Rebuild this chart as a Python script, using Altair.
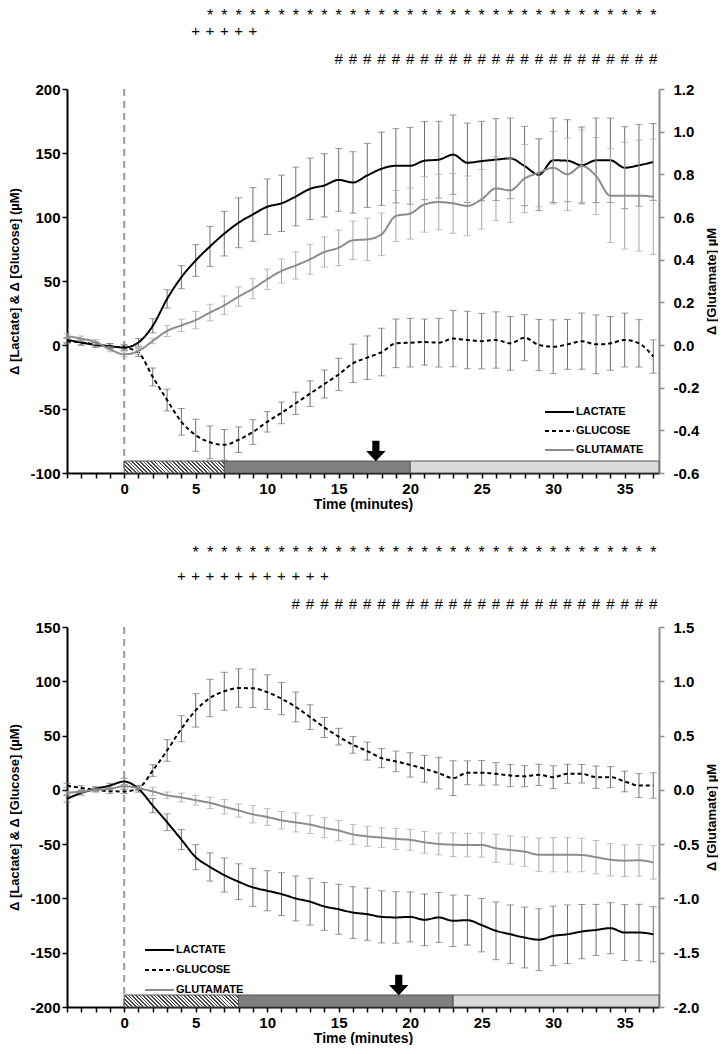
import altair as alt
import pandas as pd

FONT = "Liberation Sans"
SYMFONT = "Liberation Mono"

TIME = [-4, -3, -2, -1, 0, 1, 2, 3, 4, 5, 6, 7, 8, 9, 10, 11, 12, 13, 14, 15, 16,
        17, 18, 19, 20, 21, 22, 23, 24, 25, 26, 27, 28, 29, 30, 31, 32, 33, 34, 35, 36, 37]

# ---------------- Panel 1 ----------------
lac1 = [4, 2, 0, -1, -2, 2, 15, 36, 53, 66, 77, 87, 95.5, 102, 108, 110.7, 116, 122, 124.7, 129, 127,
        132.5, 137.7, 140, 140, 144, 144.8, 148.7, 142.4, 143.7, 144.8, 145.8, 139.8, 133, 144.3, 144,
        140.4, 144.3, 144.3, 138.5, 140.4, 143]
lac1_err = [2, 2, 2, 2, 2, 3, 5.5, 7.2, 9, 12.4, 15.6, 17.4, 19.5, 21, 21.7, 22, 23, 24, 24.7, 24.5, 24,
            25, 28.6, 29, 30, 30.5, 30, 31, 31, 31, 32, 31.5, 31, 28, 33, 32, 30, 33, 33, 32, 32, 30]
glc1 = [3, 2, 0.5, -1, -2, -6, -25, -43, -60, -70.5, -76, -78, -74, -68, -60, -53, -45.5, -38, -30.5, -23,
        -14.3, -9.9, -5.5, 1.3, 1.8, 2.3, 1.8, 5, 3.9, 3, 3.9, 1.3, 5.7, 0, -1.3, 0.5, 3, 0.5, 1.3, 3.9, 1.3, -9]
glc1_err = [2, 2, 2, 2, 2, 3, 7, 8.5, 10.4, 12.5, 12.8, 12, 10, 9.7, 8, 8.5, 8.7, 10, 11, 12.6, 15, 17,
            18.6, 19, 19, 18, 19, 22, 22.5, 21.6, 22, 21, 18, 20, 21, 19.5, 22, 23, 21, 21, 18.5, 13]
glu1 = [0.042, 0.03, 0.014, -0.02, -0.044, -0.028, 0.019, 0.066, 0.092, 0.117, 0.152, 0.186, 0.227, 0.264,
        0.308, 0.347, 0.373, 0.402, 0.436, 0.456, 0.491, 0.495, 0.519, 0.605, 0.616, 0.659, 0.67, 0.664,
        0.652, 0.683, 0.734, 0.725, 0.78, 0.808, 0.831, 0.8, 0.839, 0.792, 0.7, 0.7, 0.7, 0.695]
glu1_err = [0.012, 0.012, 0.012, 0.012, 0.012, 0.016, 0.013, 0.026, 0.029, 0.041, 0.039, 0.044, 0.045,
            0.047, 0.048, 0.056, 0.064, 0.07, 0.07, 0.084, 0.09, 0.1, 0.1, 0.12, 0.12, 0.13, 0.13, 0.14,
            0.14, 0.14, 0.15, 0.15, 0.16, 0.16, 0.17, 0.17, 0.17, 0.18, 0.22, 0.25, 0.26, 0.27]

# ---------------- Panel 2 ----------------
lac2 = [-8.3, -2.8, 0.9, 4, 7.7, 0.9, -14.5, -29.8, -45.8, -62, -71, -78.5, -84.6, -89.8, -92.9, -96, -100,
        -103, -107.4, -110, -113, -114.5, -117, -117.5, -117, -119.7, -117.5, -120.6, -120, -124.6, -129.8,
        -133, -136, -138, -134.5, -133, -130.5, -129, -127.4, -131.4, -131.4, -133]
lac2_err = [3, 2, 2, 2, 3, 3, 6.5, 7.7, 9.2, 11.5, 13, 15.7, 16.5, 17.5, 18.5, 19.7, 20.7, 21.5, 22, 23,
            23.8, 24, 24, 23.7, 23, 23.8, 23, 23.7, 23, 24.6, 26.6, 27, 28, 28.5, 27.4, 27, 25, 23.5, 23.5,
            25.7, 26, 25.4]
glc2 = [4, 1.8, 0, -1.2, -1.5, 1.5, 17.8, 36.3, 56.3, 73.2, 84.6, 90.8, 93.8, 93.5, 90, 84, 76.3, 67, 57.5,
        49, 41.5, 35.7, 29.2, 26.2, 23, 19.4, 15.4, 10.8, 15.7, 15.7, 14.8, 13.2, 12.6, 13.8, 11.7, 14.8,
        14.8, 11.7, 11.7, 7.7, 4, 4]
glc2_err = [2, 2, 2, 2, 2, 2, 5.4, 10, 12, 15.4, 17.2, 17.5, 17.7, 17.7, 16, 14.8, 13.8, 11.4, 9.2, 7.7,
            7.7, 8.3, 8.8, 9.5, 11.2, 12.3, 14.6, 16, 11, 11.4, 10.3, 10.3, 9.7, 9.8, 10.5, 8.8, 8.5, 10.3,
            9.7, 9.5, 11, 11.7]
glu2 = [-0.028, -0.015, 0, 0.009, 0.034, 0.015, -0.015, -0.05, -0.07, -0.095, -0.12, -0.155, -0.19, -0.225,
        -0.25, -0.28, -0.3, -0.32, -0.35, -0.375, -0.41, -0.428, -0.44, -0.452, -0.46, -0.483, -0.498,
        -0.505, -0.508, -0.508, -0.538, -0.554, -0.569, -0.597, -0.597, -0.597, -0.6, -0.62, -0.643,
        -0.652, -0.649, -0.668]
glu2_err = [0.015, 0.012, 0.01, 0.01, 0.015, 0.012, 0.04, 0.03, 0.04, 0.046, 0.052, 0.066, 0.06, 0.08,
            0.077, 0.08, 0.088, 0.082, 0.092, 0.094, 0.092, 0.092, 0.09, 0.098, 0.097, 0.1, 0.1, 0.109,
            0.108, 0.112, 0.13, 0.13, 0.135, 0.154, 0.158, 0.16, 0.154, 0.154, 0.15, 0.146, 0.146, 0.154]

SERIES = ["LACTATE", "GLUCOSE", "GLUTAMATE"]
SERIES_COLOR = ["black", "black", "#8c8c8c"]
SERIES_DASH = [[1, 0], [4, 3], [1, 0]]

# phases (boundaries in minutes)
phase1 = [0, 7, 20, 37.4]
phase2 = [0, 8, 23, 37.4]
arrow1 = [17.6]
arrow2 = [19.2]

# significance symbol rows (index ranges into TIME)
stars1_from, plus1_from, plus1_to, hash1_from = 10, 9, 14, 19
stars2_from, plus2_from, plus2_to, hash2_from = 9, 8, 19, 16

X_DOMAIN = [-4, 37.4]
PLOT_W = 592
BAR_H = 12
ARROW = "M-0.35,-1L0.35,-1L0.35,0L0.95,0L0,1L-0.95,0L-0.35,0Z"


def lbl_expr(fmt):
    return f"datum.value < 0 ? '-' + format(-datum.value, '{fmt}') : format(datum.value, '{fmt}')"


def hatch_gradient(w, h, period=2.6, dark="#4a4a4a", light="#f4f4f4", frac=0.45):
    """Diagonal ('\\') stripes drawn as a hard-stop linear gradient over a w x h box."""
    span = w + h
    n = max(1, round(span / (period * 2 ** 0.5)))
    stops = []
    for i in range(n):
        a, b, c = i / n, (i + frac) / n, min(1.0, (i + 1) / n)
        stops += [alt.GradientStop(color=dark, offset=a), alt.GradientStop(color=dark, offset=b),
                  alt.GradientStop(color=light, offset=b), alt.GradientStop(color=light, offset=c)]
    s = span / (w * w + h * h)
    return alt.LinearGradient(gradient="linear", stops=stops, x1=0, y1=1, x2=s * w, y2=1 - s * h)


def make_panel(lac, lac_e, glc, glc_e, glu, glu_e, ldom, lvals, rdom, rvals, h,
               phases, arrow_t, syms, sym_y, leg_xy, leg_step):
    xscale = alt.Scale(domain=X_DOMAIN, nice=False, zero=False)
    xaxis = alt.Axis(values=TIME, grid=False, domainColor="black", domainWidth=2,
                     tickColor="black", tickWidth=1.5, tickSize=5,
                     labelExpr="datum.value % 5 === 0 ? format(datum.value, 'd') : ''",
                     labelOverlap=False, labelFlush=False,
                     labelFont=FONT, labelFontSize=15, labelFontWeight="bold", labelColor="black",
                     labelPadding=3, title="Time (minutes)", titleFont=FONT, titleFontSize=14,
                     titleFontWeight="bold", titleColor="black", titlePadding=1)

    def X(f):
        return alt.X(f, type="quantitative", scale=xscale, axis=xaxis)

    ltitle = "Δ [Lactate] & Δ [Glucose] (µM)"
    laxis = alt.Axis(values=lvals, orient="left", grid=False, domainColor="black", domainWidth=2,
                     tickColor="black", tickWidth=1.5, tickSize=5, labelExpr=lbl_expr("d"),
                     labelFont=FONT, labelFontSize=15, labelFontWeight="bold", labelColor="black",
                     labelPadding=2, title=ltitle, titleFont=FONT, titleFontSize=13,
                     titleFontWeight="bold", titleColor="black", titlePadding=8)
    lscale = alt.Scale(domain=ldom, nice=False, zero=False)

    def YL(f):
        return alt.Y(f, type="quantitative", scale=lscale, axis=laxis)

    rtitle = "Δ [Glutamate] µM"
    raxis = alt.Axis(values=rvals, orient="right", grid=False, domainColor="#8c8c8c", domainWidth=2,
                     tickColor="#8c8c8c", tickWidth=1.5, tickSize=5, labelExpr=lbl_expr(".1f"),
                     labelFont=FONT, labelFontSize=15, labelFontWeight="bold", labelColor="black",
                     labelPadding=9, title=rtitle, titleFont=FONT, titleFontSize=13,
                     titleFontWeight="bold", titleColor="black", titleAngle=270,
                     titleX=52, titleY=h / 2, titleAlign="center", titleBaseline="middle")
    rscale = alt.Scale(domain=rdom, nice=False, zero=False)

    def YR(f):
        return alt.Y(f, type="quantitative", scale=rscale, axis=raxis)

    color = alt.Color("series:N", scale=alt.Scale(domain=SERIES, range=SERIES_COLOR), legend=None)
    dash = alt.StrokeDash("series:N", scale=alt.Scale(domain=SERIES, range=SERIES_DASH), legend=None)

    n = len(TIME)
    ldf = pd.DataFrame({"time": TIME * 2, "series": ["LACTATE"] * n + ["GLUCOSE"] * n,
                        "value": lac + glc, "err": lac_e + glc_e})
    ldf["lo"] = ldf["value"] - ldf["err"]
    ldf["hi"] = ldf["value"] + ldf["err"]
    rdf = pd.DataFrame({"time": TIME, "series": ["GLUTAMATE"] * n, "value": glu, "err": glu_e})
    rdf["lo"] = rdf["value"] - rdf["err"]
    rdf["hi"] = rdf["value"] + rdf["err"]

    zero = alt.Chart(pd.DataFrame({"t": [0]})).mark_rule(
        color="#9a9a9a", strokeWidth=2, strokeDash=[7, 5]).encode(x=X("t"))

    lbase = alt.Chart(ldf)
    lerr = lbase.mark_rule(color="#6e6e6e", strokeWidth=1).encode(x=X("time"), y=YL("lo"), y2="hi")
    lcap1 = lbase.mark_tick(color="#6e6e6e", orient="horizontal", size=7, thickness=1).encode(
        x=X("time"), y=YL("lo"))
    lcap2 = lbase.mark_tick(color="#6e6e6e", orient="horizontal", size=7, thickness=1).encode(
        x=X("time"), y=YL("hi"))
    llines = lbase.mark_line(strokeWidth=2, interpolate="monotone").encode(
        x=X("time"), y=YL("value"), color=color, strokeDash=dash)

    # treatment bars along the bottom of the plot
    px_per_min = PLOT_W / (X_DOMAIN[1] - X_DOMAIN[0])
    hatch_w = (phases[1] - phases[0]) * px_per_min
    fills = [hatch_gradient(hatch_w, BAR_H), "#7f7f7f", "#dadada"]
    bar_layers = []
    for i, fill in enumerate(fills):
        seg = pd.DataFrame({"start": [phases[i]], "end": [phases[i + 1]]})
        bar_layers.append(alt.Chart(seg).mark_rect(fill=fill, stroke="#555555", strokeWidth=1).encode(
            x=X("start"), x2="end", y=alt.value(h - BAR_H), y2=alt.value(h)))
    arrow = alt.Chart(pd.DataFrame({"t": arrow_t})).mark_point(
        shape=ARROW, size=420, filled=True, color="black", opacity=1).encode(
        x=X("t"), y=alt.value(h - BAR_H - 10))

    texts = []
    for (sym, times, font, fs), yy in zip(syms, sym_y):
        texts.append(alt.Chart(pd.DataFrame({"t": times, "s": [sym] * len(times)})).mark_text(
            font=font, fontSize=fs, color="black", baseline="middle").encode(
            x=X("t"), y=alt.value(yy), text="s:N"))

    # hand-built legend (line sample + label per series)
    lx, ly = leg_xy
    one = pd.DataFrame({"a": [0]})
    legend_layers = []
    for i, (name, col, dsh) in enumerate(zip(SERIES, SERIES_COLOR, SERIES_DASH)):
        yy = ly + i * leg_step
        legend_layers.append(alt.Chart(one).mark_rule(color=col, strokeDash=dsh, strokeWidth=2).encode(
            x=alt.value(lx), x2=alt.value(lx + 29), y=alt.value(yy)))
        legend_layers.append(alt.Chart(one).mark_text(
            text=name, align="left", baseline="middle", font=FONT, fontSize=11, fontWeight="bold",
            color="black").encode(x=alt.value(lx + 31), y=alt.value(yy)))

    left = alt.layer(zero, lerr, lcap1, lcap2, *bar_layers, arrow, *texts, *legend_layers, llines)

    rbase = alt.Chart(rdf)
    rerr = rbase.mark_rule(color="#a6a6a6", strokeWidth=1).encode(x=X("time"), y=YR("lo"), y2="hi")
    rcap1 = rbase.mark_tick(color="#a6a6a6", orient="horizontal", size=7, thickness=1).encode(
        x=X("time"), y=YR("lo"))
    rcap2 = rbase.mark_tick(color="#a6a6a6", orient="horizontal", size=7, thickness=1).encode(
        x=X("time"), y=YR("hi"))
    rline = rbase.mark_line(strokeWidth=2, interpolate="monotone").encode(
        x=X("time"), y=YR("value"), color=color, strokeDash=dash)
    right = alt.layer(rerr, rcap1, rcap2, rline)

    return alt.layer(left, right).resolve_scale(y="independent").properties(width=PLOT_W, height=h)


syms1 = [("*", TIME[stars1_from:], FONT, 16), ("+", TIME[plus1_from:plus1_to], FONT, 15),
         ("#", TIME[hash1_from:], SYMFONT, 15)]
syms2 = [("*", TIME[stars2_from:], FONT, 16), ("+", TIME[plus2_from:plus2_to], FONT, 15),
         ("#", TIME[hash2_from:], SYMFONT, 15)]

p1 = make_panel(lac1, lac1_err, glc1, glc1_err, glu1, glu1_err,
                [-100, 200], [-100, -50, 0, 50, 100, 150, 200],
                [-0.6, 1.2], [-0.6, -0.4, -0.2, 0.0, 0.2, 0.4, 0.6, 0.8, 1.0, 1.2],
                384, phase1, arrow1, syms1, [-73, -58, -30], [478, 323], 19)
p2 = make_panel(lac2, lac2_err, glc2, glc2_err, glu2, glu2_err,
                [-200, 150], [-200, -150, -100, -50, 0, 50, 100, 150],
                [-2.0, 1.5], [-2.0, -1.5, -1.0, -0.5, 0.0, 0.5, 1.0, 1.5],
                380, phase2, arrow2, syms2, [-74, -51, -23], [78, 323], 20)

chart = alt.vconcat(p1, p2, spacing=34).configure_view(stroke=None).properties(
    padding={"left": 0, "top": 0, "right": 0, "bottom": 0}, background="white")

chart.save("out.html", embed_options={"renderer": "svg", "actions": False})
